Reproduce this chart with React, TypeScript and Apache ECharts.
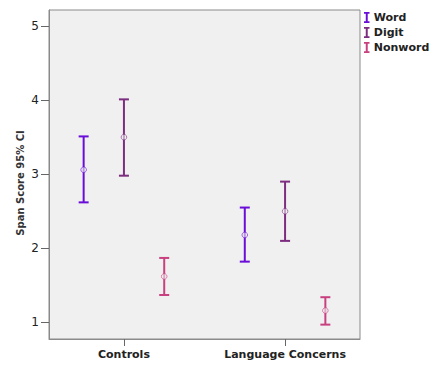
import React, { useEffect, useRef } from "react";
import * as echarts from "echarts";

const categories = ["Controls", "Language Concerns"];
const seriesNames = ["Word", "Digit", "Nonword"];
const colors = ["#6a0dd8", "#7d2d80", "#c8407f"];
// [mean, lower, upper] per category
const wordValues = [
  [3.06, 2.62, 3.51],
  [2.18, 1.82, 2.55],
];
const digitValues = [
  [3.5, 2.98, 4.01],
  [2.5, 2.1, 2.9],
];
const nonwordValues = [
  [1.62, 1.37, 1.87],
  [1.16, 0.97, 1.34],
];
const yTicks = [1, 2, 3, 4, 5];

const FONT = "DejaVu Sans";

export default function App() {
  const ref = useRef<HTMLDivElement>(null);
  useEffect(() => {
    document.body.style.margin = "0";
    const chart = echarts.init(ref.current!, null, { renderer: "svg" });
    const allValues = [wordValues, digitValues, nonwordValues];
    const offsets = [-0.25, 0, 0.25];
    const series = seriesNames.map((name, si) => ({
      name,
      type: "custom",
      itemStyle: { color: colors[si] },
      data: allValues[si].map((v, ci) => [ci + 1 + offsets[si], v[0], v[1], v[2]]),
      renderItem: (params: any, api: any) => {
        const x = api.value(0);
        const mean = api.coord([x, api.value(1)]);
        const lo = api.coord([x, api.value(2)]);
        const hi = api.coord([x, api.value(3)]);
        const half = 5;
        const c = colors[si];
        const ls = { stroke: c, lineWidth: 2 };
        return {
          type: "group",
          children: [
            { type: "line", shape: { x1: lo[0], y1: lo[1], x2: hi[0], y2: hi[1] }, style: ls },
            { type: "line", shape: { x1: lo[0] - half, y1: lo[1], x2: lo[0] + half, y2: lo[1] }, style: ls },
            { type: "line", shape: { x1: hi[0] - half, y1: hi[1], x2: hi[0] + half, y2: hi[1] }, style: ls },
            {
              type: "circle",
              shape: { cx: mean[0], cy: mean[1], r: 2.8 },
              style: { fill: "#f0f0f0", stroke: c, lineWidth: 1, opacity: 0.6 },
            },
          ],
        };
      },
    }));
    chart.setOption({
      animation: false,
      grid: {
        left: 49,
        top: 10,
        right: 73,
        bottom: 26,
        show: true,
        backgroundColor: "#f0f0f0",
        borderColor: "#8a8a8a",
        borderWidth: 1,
      },
      legend: {
        orient: "vertical",
        left: 364,
        top: 12,
        padding: 0,
        itemWidth: 6,
        itemHeight: 11,
        itemGap: 4,
        data: seriesNames.map((n) => ({
          name: n,
          icon: "path://M0,0 H10 V3 H6.8 V17 H10 V20 H0 V17 H3.2 V3 H0 Z",
        })),
        textStyle: { fontFamily: FONT, fontSize: 11, fontWeight: "bold", color: "#222", padding: [0, 0, 0, -1] },
      },
      xAxis: {
        type: "value",
        min: 0.535,
        max: 2.465,
        axisLine: { show: true, lineStyle: { color: "#8a8a8a" } },
        splitLine: { show: false },
        axisTick: { show: true, length: 7, customValues: [1, 2], lineStyle: { color: "#666" } },
        axisLabel: {
          customValues: [1, 2],
          margin: 10,
          formatter: (v: number) => categories[Math.round(v) - 1] ?? "",
          fontFamily: FONT,
          fontSize: 11,
          fontWeight: "bold",
          color: "#222",
        },
      },
      yAxis: {
        type: "value",
        min: 0.776,
        max: 5.216,
        axisLine: { show: true, lineStyle: { color: "#8a8a8a" } },
        splitLine: { show: false },
        axisTick: { show: true, length: 8, customValues: yTicks, lineStyle: { color: "#666" } },
        axisLabel: {
          customValues: yTicks,
          margin: 10,
          fontFamily: FONT,
          fontSize: 12,
          color: "#222",
        },
      },
      graphic: [
        {
          type: "text",
          x: 20,
          y: 183,
          rotation: Math.PI / 2,
          style: {
            text: "Span Score 95% CI",
            fontFamily: FONT,
            fontSize: 10,
            fontWeight: "bold",
            fill: "#333",
            align: "center",
            verticalAlign: "middle",
          },
        },
      ],
      series,
    });
    return () => chart.dispose();
  }, []);
  return <div ref={ref} style={{ width: 433, height: 365 }} />;
}
